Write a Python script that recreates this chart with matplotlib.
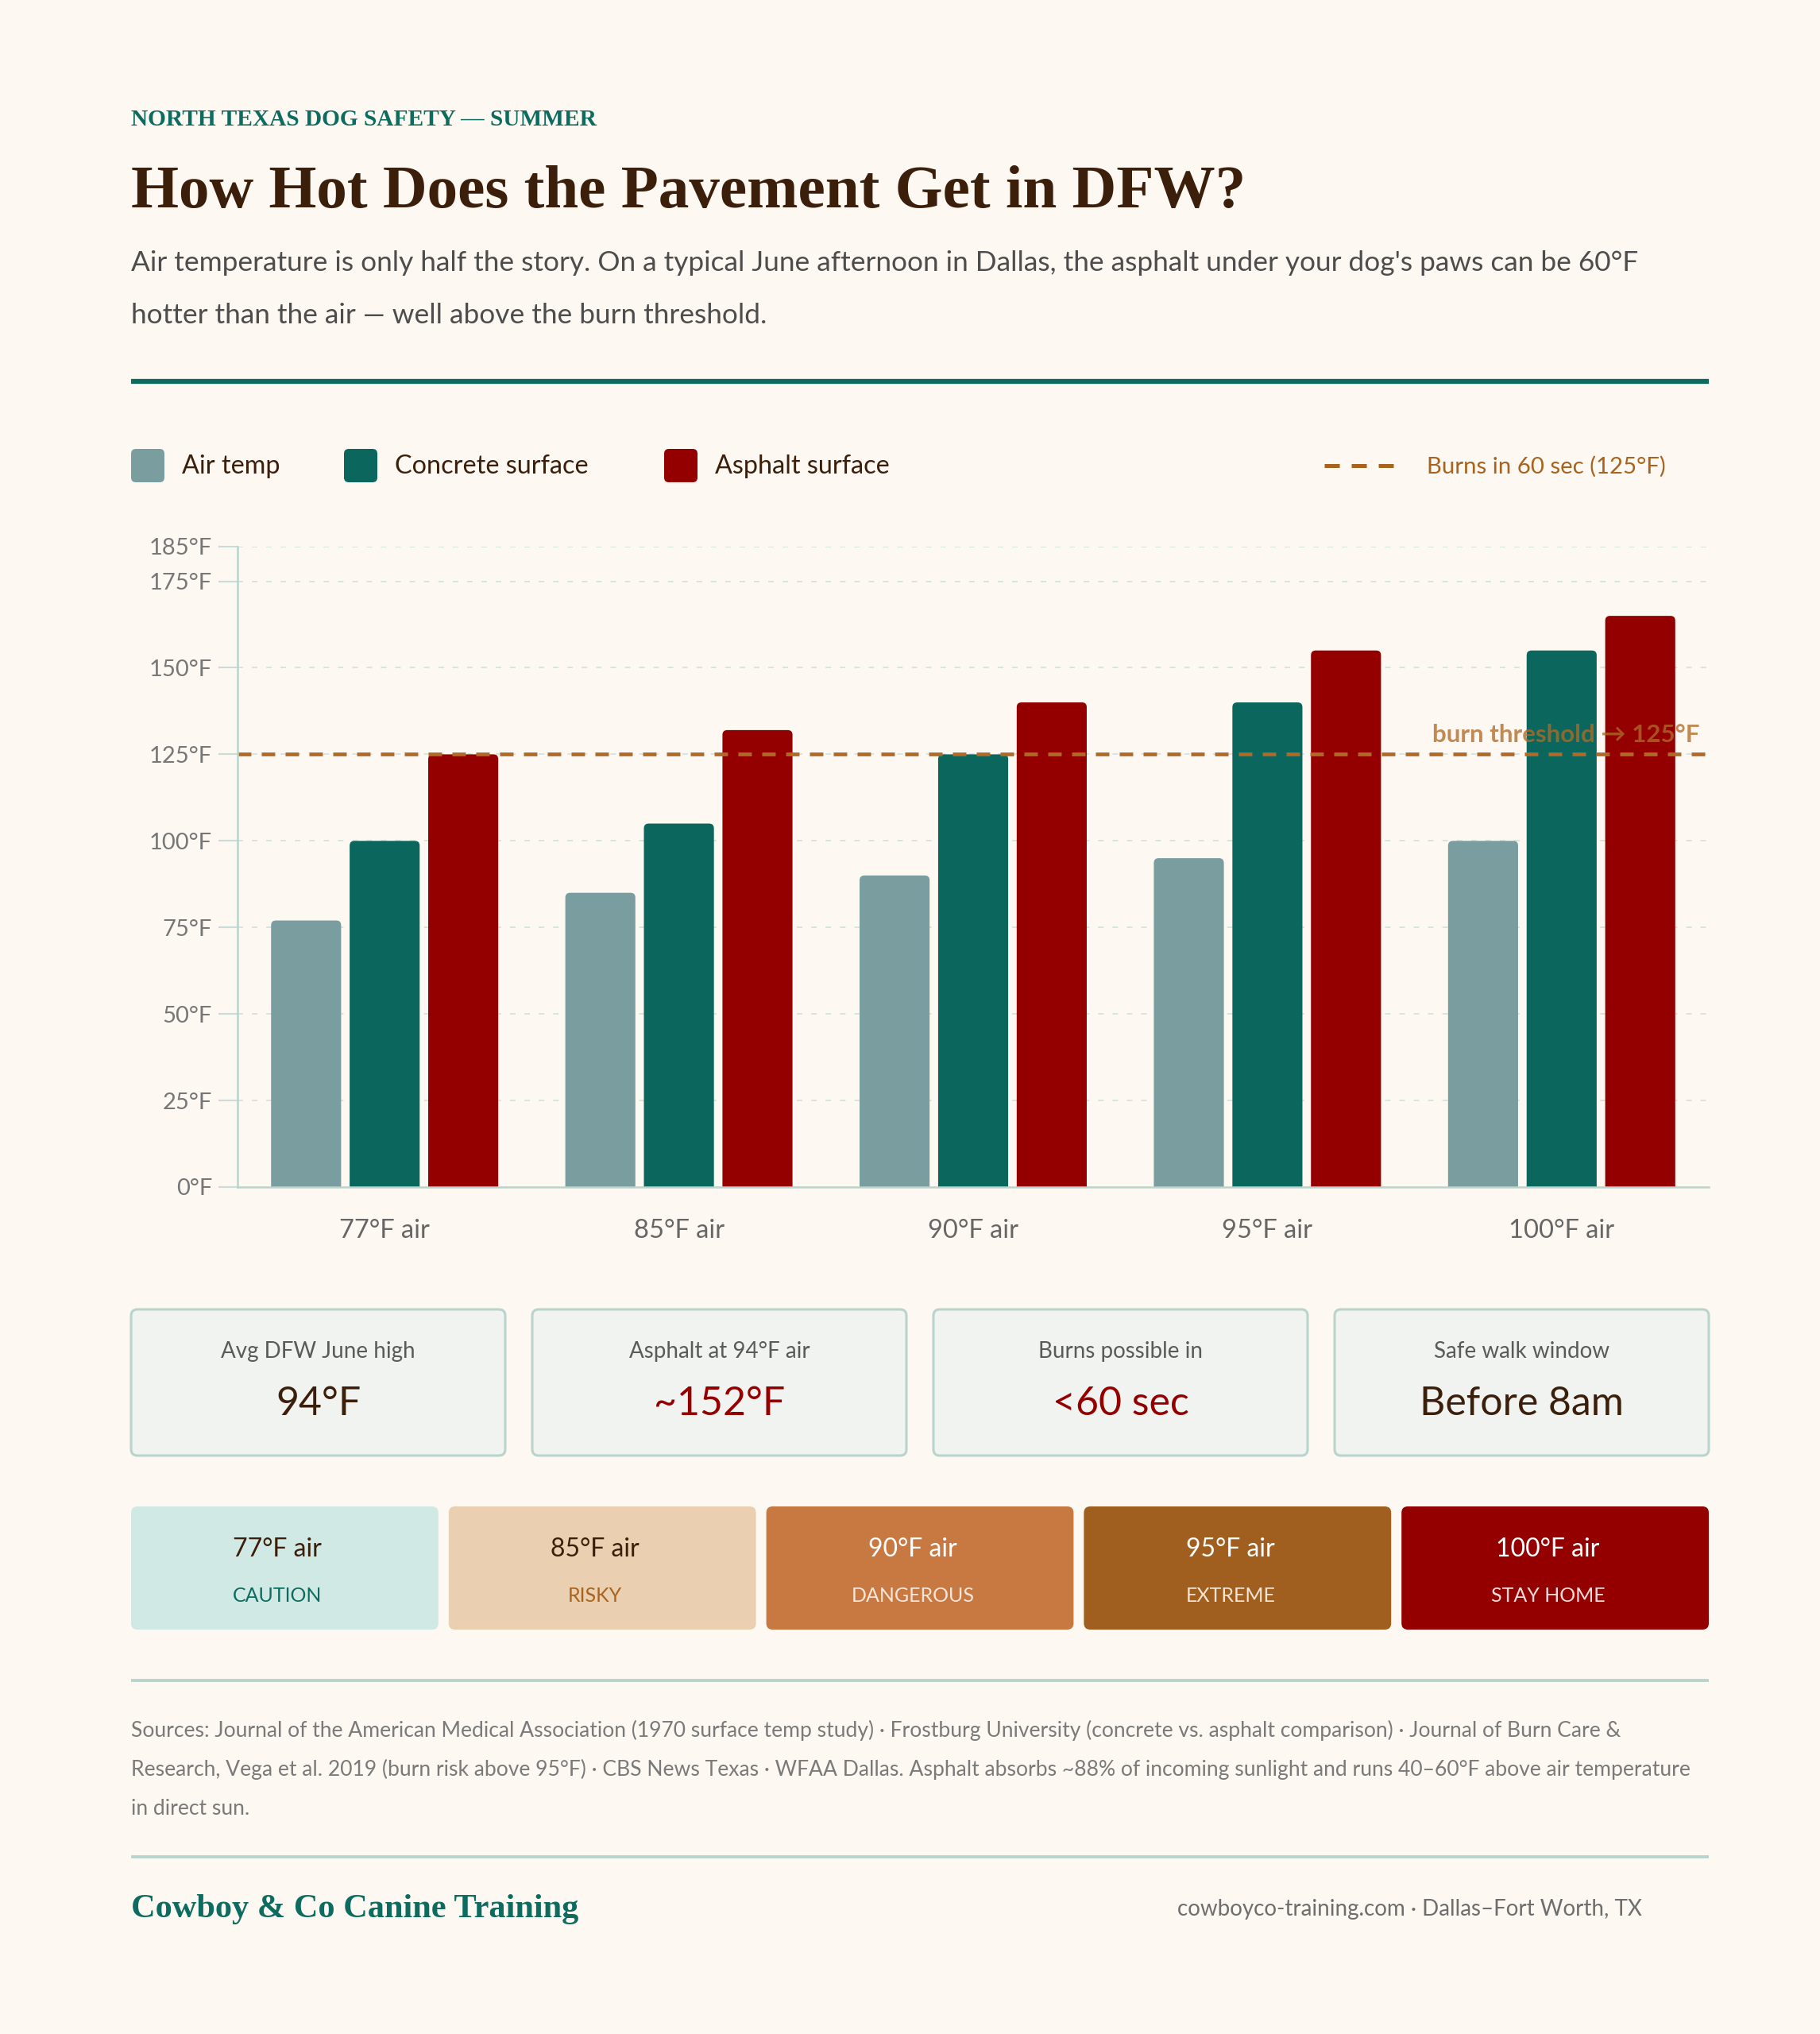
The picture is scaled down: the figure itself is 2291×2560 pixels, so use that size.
import matplotlib

matplotlib.use("Agg")

import matplotlib.pyplot as plt
from matplotlib.patches import FancyBboxPatch
from matplotlib.transforms import blended_transform_factory

plt.rcParams["lines.scale_dashes"] = False

W, H = 2291, 2560

BG = "#fdf8f1"
TEAL = "#0d6b5f"
BROWN = "#3b1f0b"
RED = "#940000"
AMBER = "#a8641f"
RULE = "#b9d3cd"
GRID = "#d7e4e0"

SANS = ["Lato", "DejaVu Sans"]
SERIF = ["Liberation Serif", "DejaVu Serif"]

# chart data
categories = ["77°F air", "85°F air", "90°F air", "95°F air", "100°F air"]
air_temp = [77, 85, 90, 95, 100]
concrete = [100, 105, 125, 140, 155]
asphalt = [125, 132, 140, 155, 165]
series_names = ["Air temp", "Concrete surface", "Asphalt surface"]
series_colors = ["#7a9e9f", "#0b675d", "#940000"]
y_ticks = [0, 25, 50, 75, 100, 125, 150, 175, 185]
burn_threshold = 125

stat_labels = ["Avg DFW June high", "Asphalt at 94°F air", "Burns possible in", "Safe walk window"]
stat_values = ["94°F", "~152°F", "<60 sec", "Before 8am"]
stat_colors = [BROWN, RED, RED, BROWN]

risk_air = ["77°F air", "85°F air", "90°F air", "95°F air", "100°F air"]
risk_levels = ["CAUTION", "RISKY", "DANGEROUS", "EXTREME", "STAY HOME"]
risk_fills = ["#d1e9e5", "#eacfb0", "#c87841", "#a15f1f", "#940000"]
risk_top_colors = [BROWN, BROWN, "white", "white", "white"]
risk_bottom_colors = [TEAL, AMBER, "#f7e6d8", "#f5e4d2", "#f6dcdc"]

sources = [
    "Sources: Journal of the American Medical Association (1970 surface temp study) · Frostburg University (concrete vs. asphalt comparison) · Journal of Burn Care &",
    "Research, Vega et al. 2019 (burn risk above 95°F) · CBS News Texas · WFAA Dallas. Asphalt absorbs ~88% of incoming sunlight and runs 40–60°F above air temperature",
    "in direct sun.",
]

fig = plt.figure(figsize=(W / 100, H / 100), dpi=100, facecolor=BG)

# pixel canvas for the page furniture
cv = fig.add_axes([0, 0, 1, 1])
cv.set_xlim(0, W)
cv.set_ylim(H, 0)
cv.axis("off")
cv.set_zorder(0)

LEFT, RIGHT = 165, 2151

cv.text(LEFT, 150, "NORTH TEXAS DOG SAFETY — SUMMER", family=SERIF, weight="bold",
        fontsize=21.2, color=TEAL, va="center")
cv.text(LEFT, 243, "How Hot Does the Pavement Get in DFW?", family=SERIF, weight="bold",
        fontsize=55.5, color=BROWN, va="center")
cv.text(LEFT, 331, "Air temperature is only half the story. On a typical June afternoon in Dallas, "
        "the asphalt under your dog's paws can be 60°F", family=SANS, fontsize=25.4,
        color="#4d4d4d", va="center")
cv.text(LEFT, 397, "hotter than the air — well above the burn threshold.", family=SANS,
        fontsize=25.4, color="#4d4d4d", va="center")
cv.plot([LEFT, RIGHT], [480, 480], color=TEAL, lw=4.5, solid_capstyle="butt")

# legend
legend_x = [165, 433, 836]
for x, name, color in zip(legend_x, series_names, series_colors):
    cv.add_patch(FancyBboxPatch((x, 565), 42, 42, boxstyle="round,pad=0,rounding_size=6",
                                fc=color, ec="none"))
    cv.text(x + 64, 587, name, family=SANS, fontsize=23.3, color=BROWN, va="center")
cv.plot([1667, 1754], [586, 586], color=AMBER, lw=3.6, dashes=(13.7, 10.8),
        dash_capstyle="butt")
cv.text(1796, 587, f"Burns in 60 sec ({burn_threshold}°F)", family=SANS, fontsize=21.2,
        color=AMBER, va="center")

# chart
ax_left, ax_right, ax_top, ax_bottom = 299, 2151, 688, 1494
ax = fig.add_axes([ax_left / W, 1 - ax_bottom / H, (ax_right - ax_left) / W,
                   (ax_bottom - ax_top) / H])
ax.set_zorder(1)
ax.patch.set_alpha(0)
ax.set_xlim(-0.5, len(categories) - 0.5)
ax.set_ylim(0, 185)

xs = range(len(categories))
step = 0.267
bw = 0.238
# rounding radius ~6 px, converted to x and y data units
rx = 6 / ((ax_right - ax_left) / len(categories))
ry = 6 / ((ax_bottom - ax_top) / 185)
for k, (vals, color) in enumerate(zip([air_temp, concrete, asphalt], series_colors)):
    bars = ax.bar([x + (k - 1) * step for x in xs], vals, width=bw, color=color,
                  edgecolor="none", zorder=2)
    for rect in bars:
        rect.set_visible(False)
        ax.add_patch(FancyBboxPatch((rect.get_x(), -3 * ry), rect.get_width(),
                                    rect.get_height() + 3 * ry,
                                    boxstyle=f"round,pad=0,rounding_size={rx}",
                                    mutation_aspect=ry / rx, fc=color, ec="none",
                                    zorder=2))

ax.set_yticks(y_ticks)
ax.set_yticklabels([f"{t}°F" for t in y_ticks], family=SANS, fontsize=21, color="#777777")
ax.set_xticks(list(xs))
ax.set_xticklabels(categories, family=SANS, fontsize=23.5, color="#666666")
ax.tick_params(axis="y", length=17, width=1.5, color="#c9dcd7", pad=6)
ax.tick_params(axis="x", length=0, pad=29)
for t in y_ticks[1:]:
    ax.axhline(t, color=GRID, lw=1.4, dashes=(5, 8), zorder=1)
for side in ["top", "right"]:
    ax.spines[side].set_visible(False)
for side in ["left", "bottom"]:
    ax.spines[side].set_color(RULE)
    ax.spines[side].set_linewidth(1.8)
    ax.spines[side].set_zorder(3)

ax.axhline(burn_threshold, color="#b06a28", lw=3.4, dashes=(12.2, 9.4), zorder=3)
tr = blended_transform_factory(ax.transAxes, ax.transData)
ax.text(0.9935, burn_threshold + 5.5, f"burn threshold → {burn_threshold}°F", transform=tr,
        ha="right", va="center", family=SANS, weight="bold", fontsize=22.5,
        color="#b06a28", alpha=0.78, zorder=4)

# stat cards
gap = 34
cw = (RIGHT - LEFT - 3 * gap) / 4
for i, (lab, val, col) in enumerate(zip(stat_labels, stat_values, stat_colors)):
    x0 = LEFT + i * (cw + gap)
    cv.add_patch(FancyBboxPatch((x0, 1648), cw, 184, boxstyle="round,pad=0,rounding_size=8",
                                fc="#f0f3f0", ec=RULE, lw=2.2))
    cv.text(x0 + cw / 2, 1701, lab, family=SANS, fontsize=20, color="#5a5a5a",
            ha="center", va="center")
    cv.text(x0 + cw / 2, 1767, val, family=SANS, fontsize=36, color=col,
            ha="center", va="center")

# risk tiles
gap = 13
tw = (RIGHT - LEFT - 4 * gap) / 5
for i in range(len(risk_levels)):
    x0 = LEFT + i * (tw + gap)
    cv.add_patch(FancyBboxPatch((x0, 1896), tw, 155, boxstyle="round,pad=0,rounding_size=8",
                                fc=risk_fills[i], ec="none"))
    cv.text(x0 + tw / 2 - 9, 1950, risk_air[i], family=SANS, fontsize=23,
            color=risk_top_colors[i], ha="center", va="center")
    cv.text(x0 + tw / 2 - 9, 2008, risk_levels[i], family=SANS, fontsize=18,
            color=risk_bottom_colors[i], ha="center", va="center")

# sources
cv.plot([LEFT, RIGHT], [2115, 2115], color=RULE, lw=2.8, solid_capstyle="butt")
for j, line in enumerate(sources):
    cv.text(LEFT, 2178 + j * 49, line, family=SANS, fontsize=19.1, color="#7a7a7a",
            va="center")
cv.plot([LEFT, RIGHT], [2337, 2337], color=RULE, lw=2.8, solid_capstyle="butt")

# footer
cv.text(LEFT, 2403, "Cowboy & Co Canine Training", family=SERIF, weight="bold",
        fontsize=30.5, color=TEAL, va="center")
cv.text(2067, 2403, "cowboyco-training.com · Dallas–Fort Worth, TX", family=SANS,
        fontsize=20, color="#6e6e6e", ha="right", va="center")

fig.savefig("out.png", dpi=100, facecolor=BG)
